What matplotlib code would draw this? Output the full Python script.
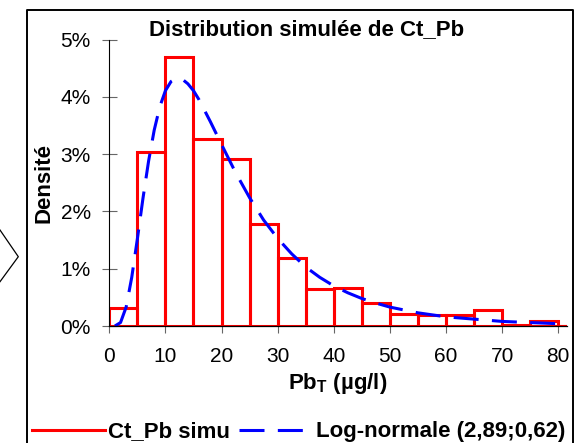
import matplotlib
matplotlib.use('Agg')
from matplotlib import pyplot as plt
from matplotlib.lines import Line2D
from matplotlib.ticker import PercentFormatter

plt.rcParams['font.family'] = 'Liberation Sans'
plt.rcParams['mathtext.fontset'] = 'custom'
plt.rcParams['mathtext.rm'] = 'Liberation Sans'
plt.rcParams['mathtext.bf'] = 'Liberation Sans:bold'
plt.rcParams['lines.scale_dashes'] = False

# histogram of the simulation (bins of 5 ug/l), density in %
bin_left = [0, 5, 10, 15, 20, 25, 30, 35, 40, 45, 50, 55, 60, 65, 70, 75, 80]
density = [0.31, 3.04, 4.70, 3.27, 2.92, 1.78, 1.19, 0.64, 0.67, 0.40,
           0.21, 0.19, 0.19, 0.28, 0.02, 0.09, 0.0]

# fitted log-normal curve, in %
curve_x = [1, 2, 3, 4, 5, 6, 7, 8, 9, 10, 11, 12, 13, 14, 15, 16, 18, 20,
           22.5, 25, 27.5, 30, 32.5, 35, 37.5, 40, 42.5, 45, 47.5, 50,
           55, 60, 65, 70, 75, 80]
curve_y = [0.00, 0.06, 0.33, 0.85, 1.52, 2.23, 2.88, 3.42, 3.83, 4.11, 4.27,
           4.33, 4.31, 4.23, 4.11, 3.95, 3.57, 3.17, 2.68, 2.24, 1.85, 1.53,
           1.26, 1.03, 0.85, 0.70, 0.58, 0.48, 0.40, 0.33, 0.23, 0.16, 0.12,
           0.08, 0.06, 0.04]

W, H = 584, 443
fig = plt.figure(figsize=(W / 100, H / 100), dpi=100)
ax = fig.add_axes([109.3 / W, 1 - 326 / H, 457.4 / W, 286.3 / H])

ax.bar(bin_left, density, width=5, align='edge', fill=False,
       edgecolor='#ff0000', linewidth=2.2, zorder=1)
ax.plot(curve_x, curve_y, color='#0000ff', linewidth=2.2,
        dashes=(18, 9.6), zorder=2)

ax.set_xlim(0, 81.5)
ax.set_ylim(0, 5)
ax.set_xticks(range(0, 81, 10))
ax.set_yticks(range(0, 6))
ax.yaxis.set_major_formatter(PercentFormatter(decimals=0))

for s in ['top', 'right']:
    ax.spines[s].set_visible(False)
ax.spines['left'].set_linewidth(0.8)
ax.spines['bottom'].set_linewidth(0.9)
ax.spines['bottom'].set_zorder(3)

ax.tick_params(axis='x', direction='out', length=5, width=0.8,
               color='#666666', labelsize=15, pad=10)
ax.tick_params(axis='y', direction='inout', length=10.8, width=0.8,
               color='#666666', labelsize=15, pad=8)

ax.set_xlabel(r'$\mathbf{Pb_T}$ (µg/l)', fontsize=16, fontweight='bold',
              labelpad=4)
ax.set_ylabel('Densité', fontsize=16, fontweight='bold', labelpad=4)

fig.text(307 / W, 1 - 35 / H, 'Distribution simulée de Ct_Pb',
         fontsize=16, fontweight='bold', ha='center', va='baseline')

handles = [Line2D([], [], color='#ff0000', linewidth=2.2),
           Line2D([], [], color='#0000ff', linewidth=2.2, dashes=(18, 9.6))]
fig.legend(handles, ['Ct_Pb simu', 'Log-normale (2,89;0,62)'],
           loc='center left', bbox_to_anchor=(31.7 / W, 1 - 432 / H),
           ncol=2, frameon=False, borderpad=0, borderaxespad=0,
           handlelength=3.3, handletextpad=0.15, columnspacing=0.4,
           prop={'weight': 'bold', 'size': 16})

# outer frame and the arrow on the left edge
fig.add_artist(Line2D([26.7 / W, 26.7 / W, 573.3 / W, 573.3 / W],
                      [-0.02, 1 - 10 / H, 1 - 10 / H, -0.02],
                      transform=fig.transFigure, color='black', linewidth=1.4))
fig.add_artist(Line2D([0, 18.3 / W, 0],
                      [1 - 230 / H, 1 - 256.7 / H, 1 - 281.7 / H],
                      transform=fig.transFigure, color='black', linewidth=0.9))

fig.savefig('out.png', dpi=100)
